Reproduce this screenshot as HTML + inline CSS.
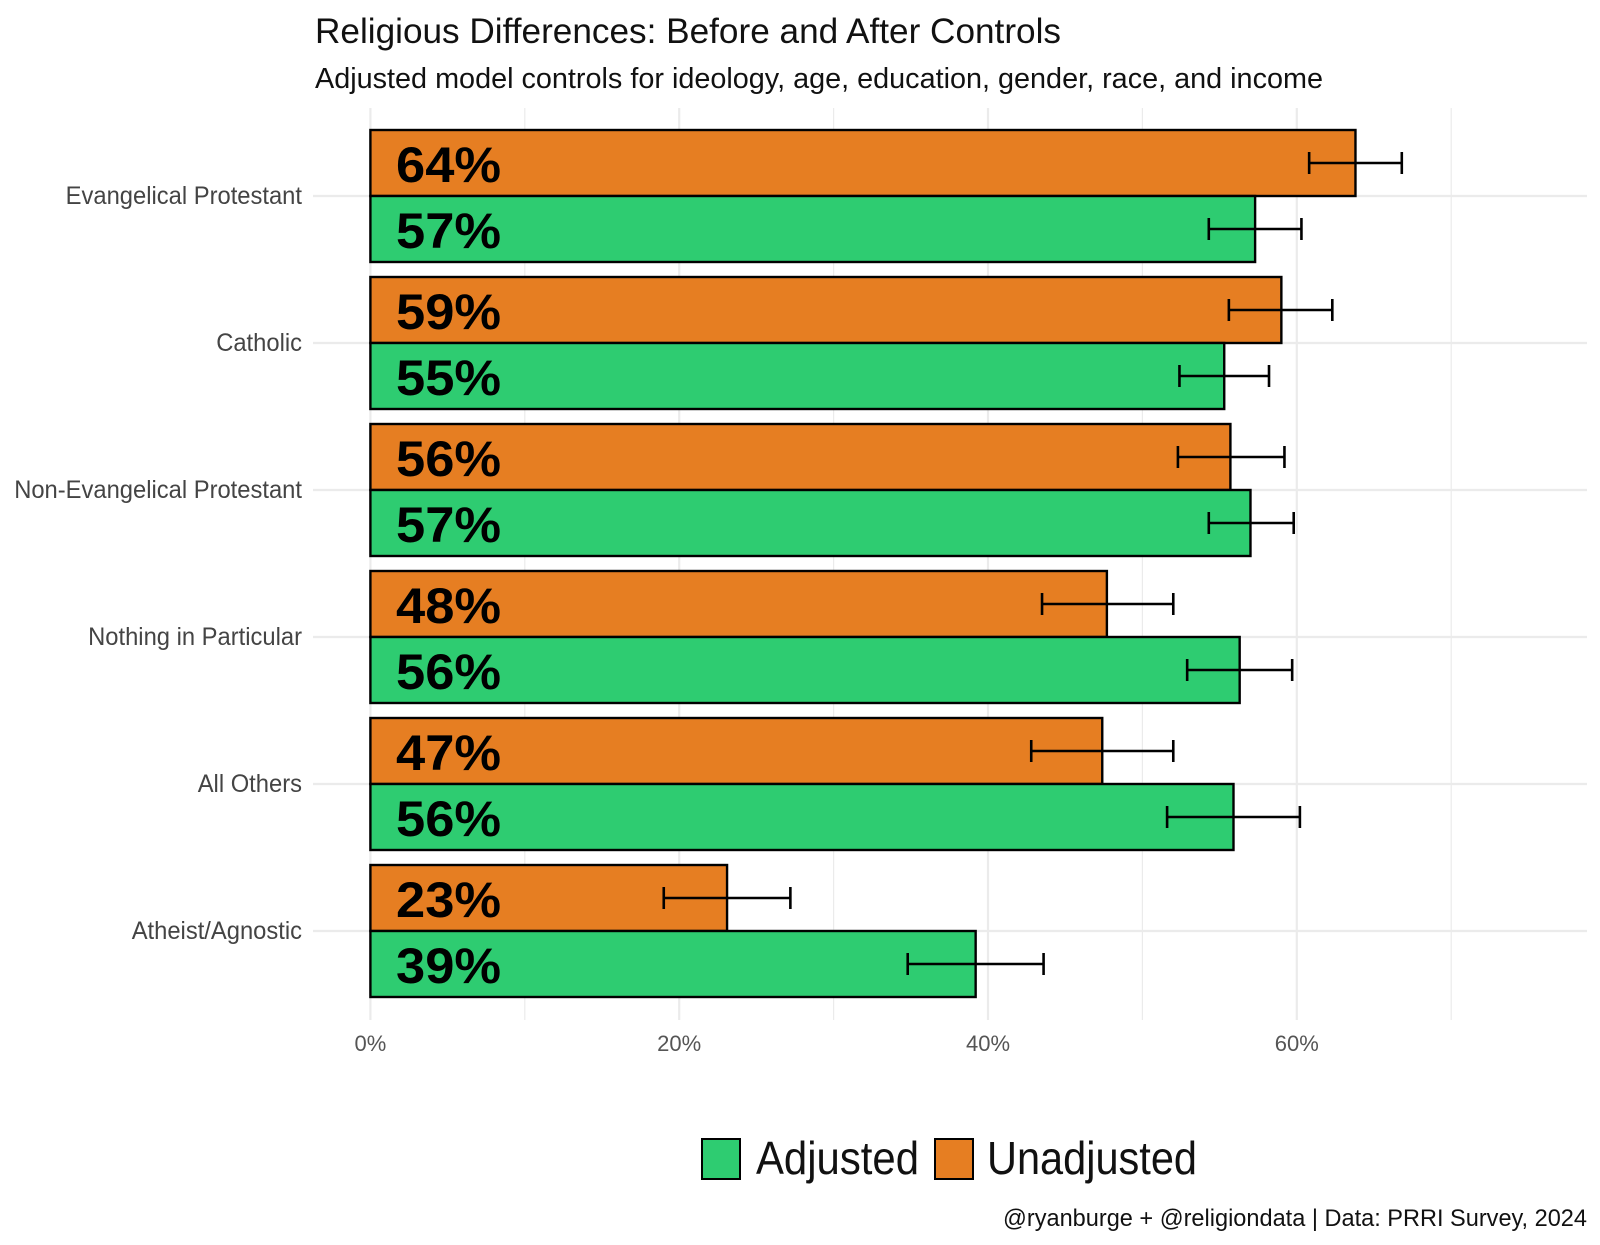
<!DOCTYPE html>
<html><head><meta charset="utf-8"><style>
html,body{margin:0;padding:0;background:#fff;}
svg{display:block;font-family:"Liberation Sans",sans-serif;}
</style></head><body>
<svg id="chart" width="1600" height="1245" xmlns="http://www.w3.org/2000/svg">
<rect width="1600" height="1245" fill="#fff"/>
<g id="grid"></g>
<g id="bars"></g>
<g id="labels"></g>
<text x="315" y="43" font-size="35" fill="#111" textLength="746" lengthAdjust="spacingAndGlyphs">Religious Differences: Before and After Controls</text>
<text x="315" y="88" font-size="29" fill="#111" textLength="1008" lengthAdjust="spacingAndGlyphs">Adjusted model controls for ideology, age, education, gender, race, and income</text>
<g>
<rect x="702" y="1139" width="38" height="40" fill="#2ecc71" stroke="#000" stroke-width="2"/>
<text x="756" y="1174" font-size="46" fill="#111" textLength="163" lengthAdjust="spacingAndGlyphs">Adjusted</text>
<rect x="935" y="1139" width="38" height="40" fill="#e67e22" stroke="#000" stroke-width="2"/>
<text x="987" y="1174" font-size="46" fill="#111" textLength="210" lengthAdjust="spacingAndGlyphs">Unadjusted</text>
</g>
<text x="1587" y="1226" font-size="24" fill="#111" text-anchor="end" textLength="584" lengthAdjust="spacingAndGlyphs">@ryanburge + @religiondata | Data: PRRI Survey, 2024</text>
</svg>
<script>
const categories = ["Evangelical Protestant","Catholic","Non-Evangelical Protestant","Nothing in Particular","All Others","Atheist/Agnostic"];
const unadjusted = [63.8, 59.0, 55.7, 47.7, 47.4, 23.1];
const unadjLow = [60.8, 55.6, 52.3, 43.5, 42.8, 19.0];
const unadjHigh = [66.8, 62.3, 59.2, 52.0, 52.0, 27.2];
const adjusted = [57.3, 55.3, 57.0, 56.3, 55.9, 39.2];
const adjLow = [54.3, 52.4, 54.3, 52.9, 51.6, 34.8];
const adjHigh = [60.3, 58.2, 59.8, 59.7, 60.2, 43.6];
const xTicks = [0, 20, 40, 60];
const xMinor = [10, 30, 50, 70];
const labelWidthFactor = 0.95;

const NS = "http://www.w3.org/2000/svg";
const x0 = 370.4, pxPer = 15.44;
const X = v => x0 + v * pxPer;
const rowTop = 130, rowStep = 147, barH = 66;
const Yc = i => rowTop + barH + i * rowStep;
const panelL = 313, panelR = 1587, panelT = 108, panelB = 1020;
function el(tag, attrs, parent){const e=document.createElementNS(NS,tag);for(const k in attrs)e.setAttribute(k,attrs[k]);parent.appendChild(e);return e;}
const grid=document.getElementById('grid'), bars=document.getElementById('bars'), labels=document.getElementById('labels');

xMinor.forEach(t=>{const l=el('line',{x1:X(t),x2:X(t),y1:panelT,y2:panelB,stroke:'#ebebeb','stroke-width':1.2},grid);

});
xTicks.forEach(t=>{const l=el('line',{x1:X(t),x2:X(t),y1:panelT,y2:panelB,stroke:'#ebebeb','stroke-width':2.2},grid);


const tx=el('text',{x:X(t),y:1051,'font-size':22,fill:'#555','text-anchor':'middle'},labels);
tx.textContent=t+'%';

});
categories.forEach((c,i)=>{const l=el('line',{x1:panelL,x2:panelR,y1:Yc(i),y2:Yc(i),stroke:'#ebebeb','stroke-width':2.2},grid);


const tx=el('text',{x:302,y:Yc(i)+8,'font-size':25,fill:'#444','text-anchor':'end'},labels);
tx.textContent=c;


tx.setAttribute('textLength',tx.getComputedTextLength()*labelWidthFactor);
tx.setAttribute('lengthAdjust','spacingAndGlyphs');});

function drawBar(v,lo,hi,y,color,name){
  const r=el('rect',{x:X(0),y:y,width:X(v)-X(0),height:barH,fill:color,stroke:'#000','stroke-width':2.4},bars);
  
  
  const cy=y+barH/2;
  const g=el('g',{stroke:'#000','stroke-width':2.6},bars);
  
  
  el('line',{x1:X(lo),x2:X(hi),y1:cy,y2:cy},g);
  el('line',{x1:X(lo),x2:X(lo),y1:cy-11,y2:cy+11},g);
  el('line',{x1:X(hi),x2:X(hi),y1:cy-11,y2:cy+11},g);
  const t=el('text',{x:396,y:cy+19,'font-size':50,'font-weight':'bold',fill:'#000'},bars);
  t.textContent=Math.round(v)+'%';
  
  
  t.setAttribute('textLength',t.getComputedTextLength()*1.05);
  t.setAttribute('lengthAdjust','spacingAndGlyphs');
}
categories.forEach((c,i)=>{
  drawBar(unadjusted[i],unadjLow[i],unadjHigh[i],Yc(i)-barH,'#e67e22','bar-unadjusted');
  drawBar(adjusted[i],adjLow[i],adjHigh[i],Yc(i),'#2ecc71','bar-adjusted');
});
</script>
</body></html>
